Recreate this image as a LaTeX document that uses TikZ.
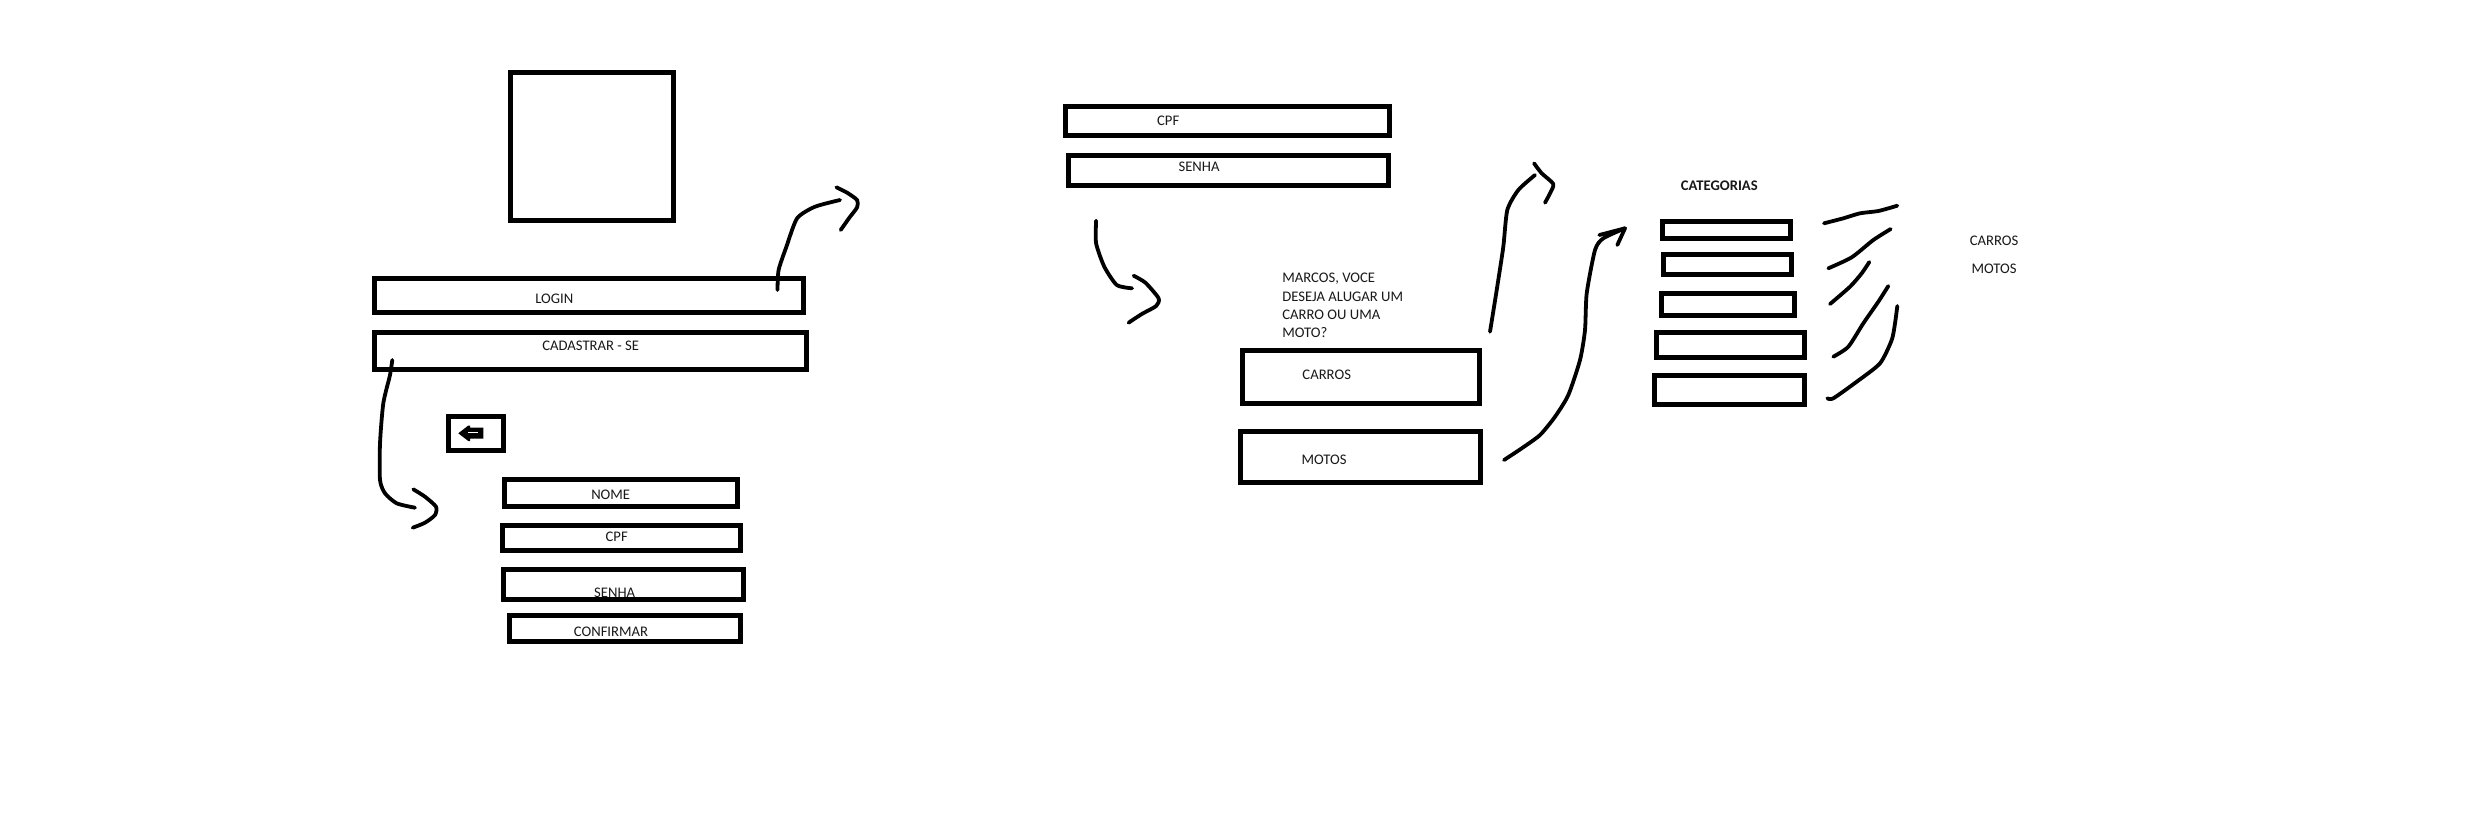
\documentclass[tikz,border=0pt]{standalone}
\usepackage{fontspec}
\setmainfont{Carlito}
\usetikzlibrary{fit}
\tikzset{
  boxn/.style={draw=black,line width=2.5pt,inner sep=0pt,outer sep=0pt,rectangle},
  hand/.style={draw=black,line width=1.9pt,line cap=round,line join=round},
  lbl/.style={inner sep=0pt,outer sep=0pt,yshift=-0.6pt,text=black!90,font=\fontsize{7.33}{9}\selectfont},
  hsm/.style={smooth,tension=0.4}
}
\begin{document}
\begin{tikzpicture}[x=0.5pt,y=-0.5pt]
\fill[white] (0,0) rectangle (2492,821);
\useasboundingbox (0,0) rectangle (2492,821);

% labels first: box edges lie over the text, as in the reference
\node[lbl] (tlogin) at (554.3,297.5) {LOGIN};
\node[lbl] (tcad) at (590.7,345) {CADASTRAR - SE};
\node[lbl] (tnome) at (610.7,493.8) {NOME};
\node[lbl] (tcpf) at (616.7,536) {CPF};
\node[lbl] (tsenha) at (614.7,592) {SENHA};
\node[lbl] (tconf) at (611,631) {CONFIRMAR};
\node[lbl] (tcpfb) at (1168.2,120) {CPF};
\node[lbl] (tsenhab) at (1199,166) {SENHA};
\node[lbl,anchor=west] (tq1) at (1282.3,277.7) {MARCOS, VOCE};
\node[lbl,anchor=west] (tq2) at (1282.3,295.7) {DESEJA ALUGAR UM};
\node[lbl,anchor=west] (tq3) at (1282.3,313.7) {CARRO OU UMA};
\node[lbl,anchor=west] (tq4) at (1282.3,331.7) {MOTO?};
\node[lbl] (tcarros) at (1326.7,373.6) {CARROS};
\node[lbl] (tmotos) at (1324,458.6) {MOTOS};
\node[lbl,font=\fontsize{7.33}{9}\selectfont\bfseries] (tcat) at (1719.3,185) {CATEGORIAS};
\node[lbl] (tcarros2) at (1994,239.6) {CARROS};
\node[lbl] (tmotos2) at (1994,267.6) {MOTOS};

% boxes
\node[boxn,fit={(510.4,72.2)(673.2,220.3)}] (logo) {};
\node[boxn,fit={(374.6,278.5)(803.2,312.8)}] (login) {};
\node[boxn,fit={(374.6,332.5)(806.1,369.2)}] (cadastrar) {};
\node[boxn,fit={(448.5,416.5)(503.7,450.2)}] (back) {};
\node[boxn,fit={(504.8,479.5)(737.5,506.5)}] (nome) {};
\node[boxn,fit={(502.5,525.5)(740.5,550.2)}] (cpf) {};
\node[boxn,fit={(503.5,569.5)(743.5,599.5)}] (senha) {};
\node[boxn,fit={(509.5,615.5)(740.5,641.5)}] (confirmar) {};
\node[boxn,fit={(1065.4,106.5)(1389.6,135.5)}] (cpfb) {};
\node[boxn,fit={(1068.6,155.5)(1388.6,185.5)}] (senhab) {};
\node[boxn,fit={(1242.5,350.5)(1479.5,403.5)}] (carros) {};
\node[boxn,fit={(1240.5,431.8)(1480.2,482.2)}] (motos) {};
\node[boxn,fit={(1662.5,221.5)(1790.2,238.5)}] (cat1) {};
\node[boxn,fit={(1663.5,254.5)(1791.5,274.5)}] (cat2) {};
\node[boxn,fit={(1661.5,293.5)(1794.2,315.5)}] (cat3) {};
\node[boxn,fit={(1656.5,332.5)(1804.5,357.5)}] (cat4) {};
\node[boxn,fit={(1654.5,375.5)(1804.5,404.5)}] (cat5) {};

% back arrow icon
\fill[black] (458.3,433.3) -- (468.3,425.5) -- (470,425.5) -- (470,427.5) -- (483.3,427.5) -- (483.3,438.5) -- (470,438.5) -- (470,441) -- (468.3,441) -- cycle;
\draw[white,line width=0.5pt] (468,432.5) -- (478,432.5);

% hand-drawn connector ends
\coordinate (loginStart) at (777.5,290);
\coordinate (loginEnd) at (840,200);
\coordinate (cadStart) at (392.3,360);
\coordinate (cadEnd) at (415,507.7);
\coordinate (senhaStart) at (1096.1,220.7);
\coordinate (senhaEnd) at (1132.1,288.3);
\coordinate (carStart) at (1490,331.7);
\coordinate (carEnd) at (1535,175);
\coordinate (motStart) at (1504,460);
\coordinate (motEnd) at (1625,228.3);

\draw[hand] plot[hsm] coordinates {(loginStart) (778.6,270) (786.4,246.7) (797.1,218.3) (815,206.7) (loginEnd)};
\draw[hand] plot[hsm] coordinates {(836.4,187.3) (847.1,192.7) (857.1,200) (857.1,207.3) (848.9,218.3) (840.7,230)};

\draw[hand] plot[hsm] coordinates {(cadStart) (390,375) (383.3,403.3) (380,443.3) (380,480) (385,493.3) (396.7,503.3) (cadEnd)};
\draw[hand] plot[hsm] coordinates {(413.3,489.3) (425,496.7) (436,506.7) (435,515) (425,522.7) (412.7,527.7)};

\draw[hand] plot[hsm] coordinates {(senhaStart) (1096.1,243.3) (1104.3,266.7) (1116.8,285) (senhaEnd)};
\draw[hand] plot[hsm] coordinates {(1133.6,275.7) (1145.4,282.7) (1158.6,298.3) (1156.1,306) (1141.8,314) (1128.6,322.7)};

\draw[hand] plot[hsm] coordinates {(carStart) (1496.7,290) (1503.3,246.7) (1507.3,210) (1518.3,190) (carEnd)};
\draw[hand] plot[hsm] coordinates {(1534,163.3) (1541.7,173.3) (1553.3,184) (1550,193.3) (1545,202.7)};

\draw[hand] plot[hsm] coordinates {(motStart) (1521.7,448.3) (1540,435) (1555,416.7) (1568.3,395) (1580,360) (1585,330) (1586.7,293.3) (1595,250) (1603.3,238.3) (motEnd)};
\draw[hand] (1599.3,235) -- (motEnd) -- (1617.3,245);

% category scribbles
\draw[hand] plot[hsm] coordinates {(1824,223.3) (1843.3,218.3) (1860,213.3) (1878.3,211) (1897.3,205.7)};
\draw[hand] plot[hsm] coordinates {(1828.3,268.3) (1851.7,257.3) (1873.3,240) (1890.7,229)};
\draw[hand] plot[hsm] coordinates {(1830,304) (1850,286.7) (1861.7,273.3) (1869.3,262)};
\draw[hand] plot[hsm] coordinates {(1833.3,356.7) (1848.3,346.7) (1863.3,323.3) (1878.3,301.7) (1888.3,286)};
\draw[hand] plot[hsm] coordinates {(1827.3,398.3) (1833.3,398.3) (1856.7,381.7) (1880,363.3) (1891.7,340) (1895,323.3) (1897.3,306)};
\end{tikzpicture}
\end{document}
